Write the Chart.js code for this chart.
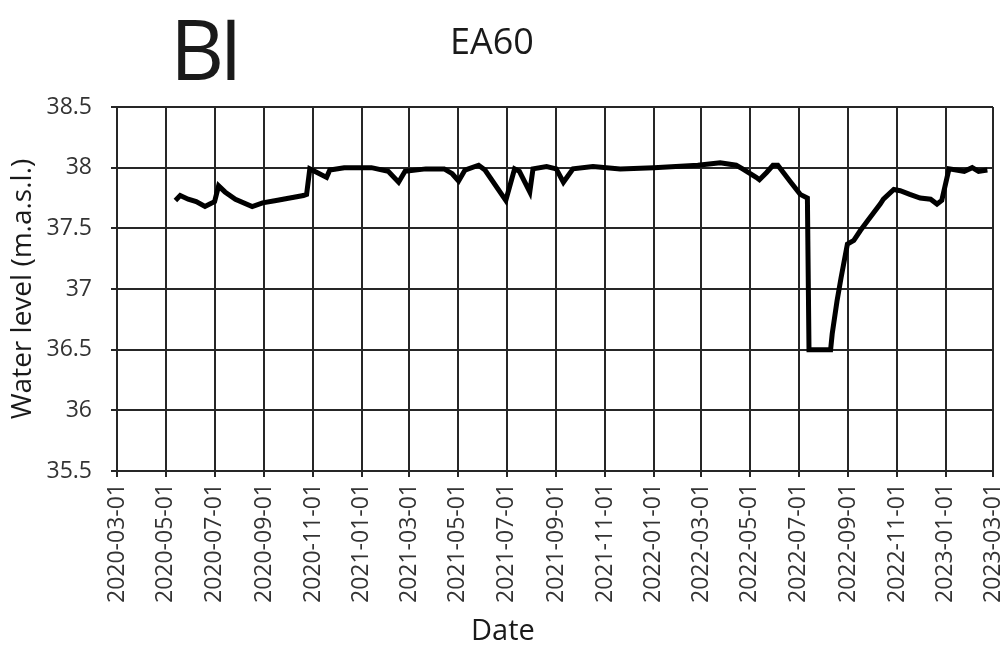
<!DOCTYPE html>
<html lang="en">
<head>
    <meta charset="UTF-8">
    <title>EA60 water level</title>
    <style>
        body {
            margin: 0;
            background-color: #fff;
            font-family: "Open Sans", sans-serif;
        }
        .wrap {
            position: relative;
            width: 1005px;
            height: 648px;
        }
        .label {
            position: absolute;
            color: #1a1a1a;
            white-space: nowrap;
            line-height: 1;
        }
        #panel { left: 170px; top: 6px; font-size: 84px; letter-spacing: -5px; }
        #title { left: 450px; top: 23px; font-size: 36px; }
        #xTitle { left: 471px; top: 614px; font-size: 29px; }
    </style>
</head>
<body>
    <div class="wrap">
        <canvas id="chart" width="1005" height="648"></canvas>
        <div class="label" id="panel">BI</div>
        <div class="label" id="title">EA60</div>
        <div class="label" id="xTitle">Date</div>
    </div>

    <script src="https://cdn.jsdelivr.net/npm/chart.js"></script>
    <script>
        // Fechas de medición
        const dates = [
            "2020-05-13", "2020-05-19", "2020-05-29", "2020-06-08", "2020-06-19", "2020-06-25",
            "2020-07-01", "2020-07-06", "2020-07-14", "2020-07-27", "2020-08-17", "2020-08-30",
            "2020-09-16", "2020-10-03", "2020-10-20", "2020-10-24", "2020-10-28", "2020-11-03",
            "2020-11-18", "2020-11-22", "2020-12-10", "2021-01-13", "2021-02-03", "2021-02-16",
            "2021-02-24", "2021-03-22", "2021-04-14", "2021-04-24", "2021-05-02", "2021-05-10",
            "2021-05-27", "2021-06-04", "2021-06-30", "2021-07-11", "2021-07-17", "2021-07-30",
            "2021-08-03", "2021-08-20", "2021-09-01", "2021-09-10", "2021-09-22", "2021-10-17",
            "2021-11-20", "2022-01-01", "2022-02-25", "2022-03-25", "2022-04-14", "2022-04-22",
            "2022-05-09", "2022-05-13", "2022-05-22", "2022-05-30", "2022-06-05", "2022-06-20",
            "2022-07-03", "2022-07-12", "2022-07-14", "2022-08-10", "2022-08-12", "2022-08-18",
            "2022-08-23", "2022-08-31", "2022-09-08", "2022-09-16", "2022-09-25", "2022-10-03",
            "2022-10-11", "2022-10-15", "2022-10-28", "2022-11-05", "2022-11-17", "2022-11-30",
            "2022-12-13", "2022-12-21", "2022-12-27", "2023-01-05", "2023-01-24", "2023-02-03",
            "2023-02-11", "2023-02-22"
        ];

        // Nivel de agua (m.a.s.l.)
        const waterLevel = [
            37.73, 37.77, 37.74, 37.72, 37.68, 37.70,
            37.72, 37.85, 37.80, 37.74, 37.68, 37.71,
            37.73, 37.75, 37.77, 37.78, 37.99, 37.97,
            37.92, 37.98, 38.00, 38.00, 37.97, 37.88,
            37.97, 37.99, 37.99, 37.95, 37.89, 37.98,
            38.02, 37.98, 37.73, 37.99, 37.97, 37.80,
            37.99, 38.01, 37.99, 37.88, 37.99, 38.01,
            37.99, 38.00, 38.02, 38.04, 38.02, 37.99,
            37.92, 37.90, 37.96, 38.02, 38.02, 37.89,
            37.78, 37.75, 36.50, 36.50, 36.63, 36.90,
            37.09, 37.37, 37.40, 37.48, 37.56, 37.63,
            37.70, 37.74, 37.82, 37.81, 37.78, 37.75,
            37.74, 37.70, 37.73, 37.99, 37.97, 38.00,
            37.97, 37.98
        ];

        // Etiquetas del eje X (cada dos meses)
        const xTickLabels = [
            "2020-03-01", "2020-05-01", "2020-07-01", "2020-09-01", "2020-11-01",
            "2021-01-01", "2021-03-01", "2021-05-01", "2021-07-01", "2021-09-01",
            "2021-11-01", "2022-01-01", "2022-03-01", "2022-05-01", "2022-07-01",
            "2022-09-01", "2022-11-01", "2023-01-01", "2023-03-01"
        ];

        // Etiquetas del eje Y
        const yTicks = [35.5, 36, 36.5, 37, 37.5, 38, 38.5];

        // Días desde el inicio del eje
        const origin = Date.UTC(2020, 2, 1);
        function toDays(s) {
            const p = s.split("-").map(Number);
            return Math.round((Date.UTC(p[0], p[1] - 1, p[2]) - origin) / 86400000);
        }

        const points = dates.map((d, i) => ({ x: toDays(d), y: waterLevel[i] }));
        const tickDays = xTickLabels.map(toDays);

        const gridColor = "#262626";
        const textColor = "#333";

        new Chart(document.getElementById("chart"), {
            type: "line",
            data: {
                datasets: [{
                    data: points,
                    borderColor: "#000",
                    borderWidth: 5,
                    pointRadius: 0,
                    tension: 0,
                    fill: false,
                }],
            },
            options: {
                responsive: false,
                animation: false,
                devicePixelRatio: 1,
                layout: {
                    padding: { top: 107, right: 12, left: 0, bottom: 0 },
                },
                plugins: {
                    legend: { display: false },
                    tooltip: { enabled: false },
                },
                scales: {
                    x: {
                        type: "linear",
                        min: tickDays[0],
                        max: tickDays[tickDays.length - 1],
                        afterBuildTicks: (axis) => {
                            axis.ticks = tickDays.map(v => ({ value: v }));
                        },
                        afterFit: (axis) => {
                            axis.height = 177;
                            axis.paddingRight = 0;
                            axis.paddingLeft = 0;
                        },
                        grid: {
                            color: gridColor,
                            lineWidth: 2,
                            tickLength: 6,
                        },
                        border: { color: gridColor, width: 2 },
                        ticks: {
                            autoSkip: false,
                            maxRotation: 90,
                            minRotation: 90,
                            padding: 6,
                            color: textColor,
                            font: { family: "Open Sans", size: 23 },
                            callback: (value) => {
                                const i = tickDays.indexOf(value);
                                return i >= 0 ? xTickLabels[i] : "";
                            },
                        },
                    },
                    y: {
                        min: 35.5,
                        max: 38.5,
                        afterBuildTicks: (axis) => {
                            axis.ticks = yTicks.map(v => ({ value: v }));
                        },
                        afterFit: (axis) => {
                            axis.width = 117;
                        },
                        grid: {
                            color: gridColor,
                            lineWidth: 2,
                            tickLength: 6,
                        },
                        border: { color: gridColor, width: 2 },
                        title: {
                            display: true,
                            text: "Water level (m.a.s.l.)",
                            color: "#1a1a1a",
                            font: { family: "Open Sans", size: 28 },
                            padding: { top: 6, bottom: 0 },
                        },
                        ticks: {
                            padding: 19,
                            color: textColor,
                            font: { family: "Open Sans", size: 23 },
                            callback: (value) => String(value),
                        },
                    },
                },
            },
        });
    </script>
</body>
</html>
